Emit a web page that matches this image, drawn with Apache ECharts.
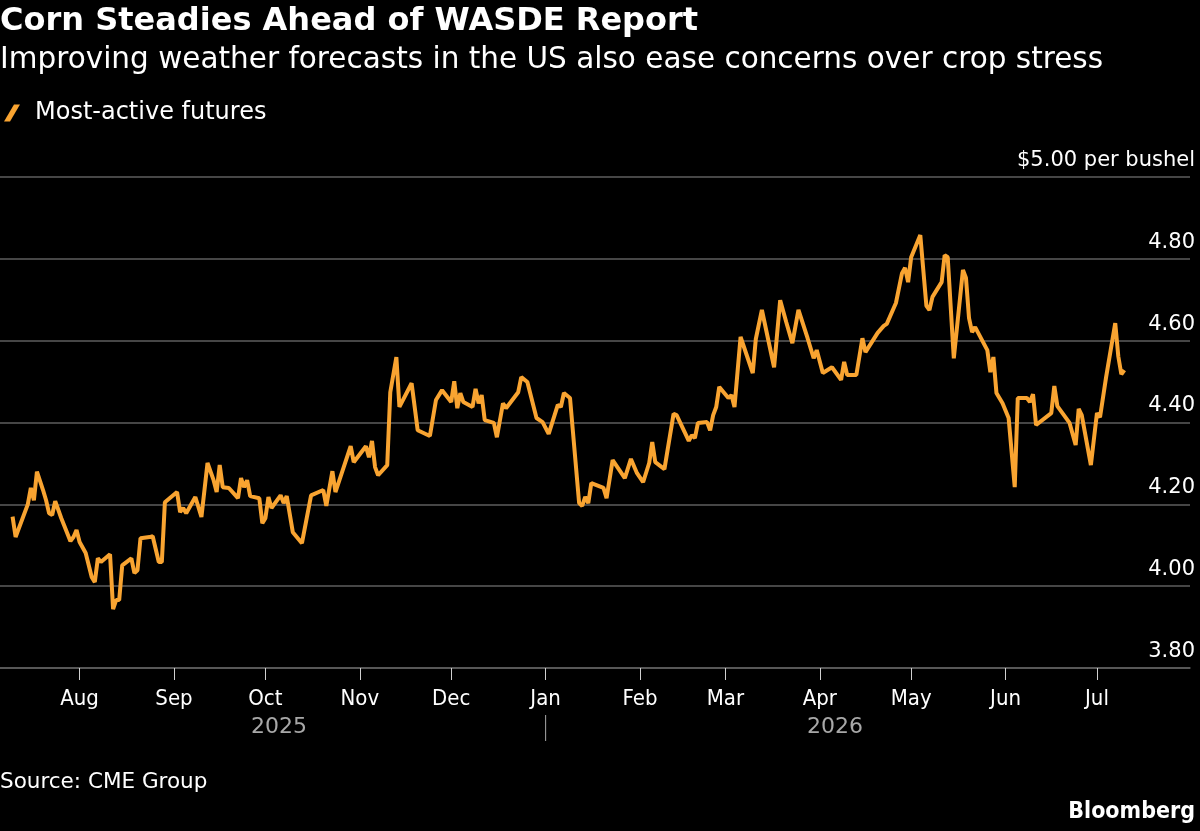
<!DOCTYPE html>
<html>
<head>
<meta charset="utf-8">
<script src="https://cdn.jsdelivr.net/npm/echarts@6/dist/echarts.min.js"></script>
<style>
  html, body { margin: 0; padding: 0; background: #000; }
  #chart { width: 1200px; height: 831px; }
</style>
</head>
<body>
<div id="chart"></div>
<script>
// most-active corn futures, $ per bushel
var dates = [
  '2025-07-10','2025-07-11','2025-07-15','2025-07-16','2025-07-17','2025-07-18','2025-07-20','2025-07-21',
  '2025-07-22','2025-07-23','2025-07-24','2025-07-26','2025-07-29','2025-07-30','2025-07-31','2025-08-01',
  '2025-08-03','2025-08-05','2025-08-06','2025-08-07','2025-08-08','2025-08-11','2025-08-12','2025-08-13',
  '2025-08-14','2025-08-15','2025-08-18','2025-08-19','2025-08-20','2025-08-21','2025-08-24','2025-08-25',
  '2025-08-27','2025-08-28','2025-08-29','2025-09-02','2025-09-03','2025-09-04','2025-09-05','2025-09-08',
  '2025-09-10','2025-09-12','2025-09-14','2025-09-15','2025-09-16','2025-09-17','2025-09-19','2025-09-22',
  '2025-09-23','2025-09-24','2025-09-25','2025-09-26','2025-09-29','2025-09-30','2025-10-01','2025-10-02',
  '2025-10-03','2025-10-06','2025-10-07','2025-10-08','2025-10-10','2025-10-13','2025-10-16','2025-10-20',
  '2025-10-21','2025-10-23','2025-10-24','2025-10-29','2025-10-30','2025-11-03','2025-11-04','2025-11-05',
  '2025-11-06','2025-11-07','2025-11-10','2025-11-11','2025-11-13','2025-11-14','2025-11-18','2025-11-20',
  '2025-11-24','2025-11-26','2025-11-28','2025-12-01','2025-12-02','2025-12-03','2025-12-04','2025-12-05',
  '2025-12-08','2025-12-09','2025-12-10','2025-12-11','2025-12-12','2025-12-15','2025-12-16','2025-12-18',
  '2025-12-19','2025-12-23','2025-12-24','2025-12-26','2025-12-29','2025-12-31','2026-01-02','2026-01-05',
  '2026-01-06','2026-01-07','2026-01-09','2026-01-12','2026-01-13','2026-01-14','2026-01-15','2026-01-16',
  '2026-01-20','2026-01-21','2026-01-23','2026-01-27','2026-01-29','2026-01-31','2026-02-02','2026-02-04',
  '2026-02-05','2026-02-06','2026-02-09','2026-02-12','2026-02-13','2026-02-17','2026-02-18','2026-02-19',
  '2026-02-20','2026-02-23','2026-02-24','2026-02-25','2026-02-26','2026-02-27','2026-03-02','2026-03-03',
  '2026-03-04','2026-03-06','2026-03-10','2026-03-11','2026-03-13','2026-03-17','2026-03-19','2026-03-21',
  '2026-03-23','2026-03-25','2026-03-28','2026-03-30','2026-03-31','2026-04-02','2026-04-05','2026-04-08',
  '2026-04-09','2026-04-10','2026-04-13','2026-04-15','2026-04-16','2026-04-20','2026-04-22','2026-04-23',
  '2026-04-26','2026-04-28','2026-04-29','2026-04-30','2026-05-01','2026-05-04','2026-05-06','2026-05-07',
  '2026-05-08','2026-05-11','2026-05-12','2026-05-13','2026-05-15','2026-05-18','2026-05-19','2026-05-20',
  '2026-05-21','2026-05-22','2026-05-26','2026-05-27','2026-05-28','2026-05-29','2026-05-31','2026-06-02',
  '2026-06-04','2026-06-05','2026-06-08','2026-06-09','2026-06-10','2026-06-11','2026-06-16','2026-06-17',
  '2026-06-18','2026-06-22','2026-06-24','2026-06-25','2026-06-26','2026-06-29','2026-07-01','2026-07-02',
  '2026-07-04','2026-07-07','2026-07-08','2026-07-09','2026-07-10'
];
var prices = [
  4.17, 4.12, 4.20, 4.24, 4.21, 4.28, 4.235, 4.21,
  4.178, 4.174, 4.208, 4.166, 4.11, 4.12, 4.137, 4.108,
  4.081, 4.022, 4.01, 4.068, 4.059, 4.078, 3.944, 3.966,
  3.966, 4.051, 4.068, 4.032, 4.039, 4.117, 4.12, 4.122,
  4.059, 4.059, 4.205, 4.23, 4.181, 4.191, 4.178, 4.218,
  4.169, 4.301, 4.259, 4.23, 4.296, 4.242, 4.24, 4.215,
  4.264, 4.242, 4.259, 4.22, 4.215, 4.154, 4.166, 4.218,
  4.191, 4.222, 4.203, 4.22, 4.132, 4.105, 4.222, 4.235,
  4.196, 4.281, 4.23, 4.342, 4.303, 4.342, 4.315, 4.355,
  4.291, 4.271, 4.296, 4.474, 4.56, 4.438, 4.496, 4.381,
  4.367, 4.455, 4.479, 4.45, 4.501, 4.435, 4.472, 4.45,
  4.438, 4.482, 4.447, 4.467, 4.406, 4.399, 4.364, 4.447,
  4.435, 4.474, 4.511, 4.499, 4.411, 4.401, 4.372, 4.443,
  4.438, 4.472, 4.46, 4.203, 4.196, 4.218, 4.203, 4.252,
  4.24, 4.215, 4.308, 4.264, 4.311, 4.276, 4.254, 4.301,
  4.352, 4.303, 4.286, 4.421, 4.418, 4.355, 4.369, 4.362,
  4.399, 4.401, 4.381, 4.418, 4.438, 4.487, 4.46, 4.467,
  4.438, 4.609, 4.521, 4.604, 4.675, 4.535, 4.699, 4.645,
  4.594, 4.675, 4.606, 4.557, 4.577, 4.521, 4.535, 4.504,
  4.548, 4.516, 4.516, 4.606, 4.572, 4.619, 4.636, 4.641,
  4.692, 4.765, 4.778, 4.743, 4.804, 4.858, 4.685, 4.675,
  4.707, 4.743, 4.809, 4.804, 4.557, 4.773, 4.753, 4.655,
  4.621, 4.633, 4.577, 4.523, 4.56, 4.472, 4.447, 4.411,
  4.242, 4.46, 4.46, 4.45, 4.469, 4.394, 4.423, 4.489,
  4.44, 4.399, 4.345, 4.433, 4.418, 4.296, 4.423, 4.413,
  4.511, 4.643, 4.562, 4.518, 4.528
];

var monthNames = ['Jan','Feb','Mar','Apr','May','Jun','Jul','Aug','Sep','Oct','Nov','Dec'];
var yearLabels = ['2025', '2026'];
var yearBreak = '2026-01-01';

var SANS = "'DejaVu Sans', sans-serif";
var COND = "'DejaVu Sans Condensed', 'DejaVu Sans', sans-serif";
var ORANGE = '#F9A431';
var GRID = '#5e5e5e';
var DAY = 86400000;

function toTime(s) {
  var p = s.split(/[- :]/);
  return new Date(+p[0], +p[1] - 1, +p[2], +(p[3] || 0), +(p[4] || 0)).getTime();
}

var seriesData = dates.map(function (d, i) { return [toTime(d), prices[i]]; });

var chart = echarts.init(document.getElementById('chart'));

chart.setOption({
  backgroundColor: '#000',
  animation: false,
  title: [
    { text: 'Corn Steadies Ahead of WASDE Report', left: 0, top: 6, padding: 0,
      textStyle: { color: '#fff', fontSize: 32, fontWeight: 'bold', fontFamily: SANS } },
    { text: 'Improving weather forecasts in the US also ease concerns over crop stress', left: 0, top: 45, padding: 0,
      textStyle: { color: '#fff', fontSize: 29.5, fontWeight: 'normal', fontFamily: SANS } },
    { text: 'Source: CME Group', left: 0, top: 771, padding: 0,
      textStyle: { color: '#fff', fontSize: 21.5, fontWeight: 'normal', fontFamily: SANS } },
    { text: 'Bloomberg', right: 5, top: 801, padding: 0,
      textStyle: { color: '#fff', fontSize: 23, fontWeight: 'bold', fontFamily: COND } }
  ],
  legend: {
    left: 4, top: 101, padding: 0,
    itemWidth: 16, itemHeight: 17,
    icon: 'path://M0,17 L6,17 L16,0 L10,0 Z',
    textStyle: { color: '#fff', fontSize: 24, fontFamily: SANS, padding: [0, 0, 0, 10] },
    data: ['Most-active futures']
  },
  grid: { left: 0, right: 10, top: 177, bottom: 163 },
  xAxis: {
    type: 'time',
    min: toTime('2025-07-05 21:00'),
    max: toTime('2026-07-31 13:00'),
    splitNumber: 12,
    minInterval: 28 * DAY,
    maxInterval: 31 * DAY,
    axisLine: { show: true, lineStyle: { color: GRID, width: 1.5 } },
    axisTick: { show: true, length: 12, lineStyle: { color: '#d0d0d0' } },
    splitLine: { show: false },
    axisLabel: {
      color: '#fff', fontSize: 22, fontFamily: COND, margin: 20,
      formatter: function (v) { return monthNames[new Date(v).getMonth()]; }
    }
  },
  yAxis: {
    type: 'value', position: 'right',
    min: 3.8, max: 5.0, interval: 0.2,
    axisLine: { show: false }, axisTick: { show: false },
    splitLine: { lineStyle: { color: GRID, width: 1.5 } },
    axisLabel: {
      inside: true, verticalAlign: 'bottom', margin: -5, padding: [0, 0, 6, 0],
      color: '#fff', fontSize: 21, fontFamily: SANS,
      formatter: function (v) { return Math.abs(v - 5) < 1e-6 ? '$5.00 per bushel' : v.toFixed(2); }
    }
  },
  series: [{
    name: 'Most-active futures',
    type: 'line',
    color: ORANGE,
    showSymbol: false,
    symbol: 'none',
    lineStyle: { width: 4, color: ORANGE },
    data: seriesData
  }]
});

// year captions under the month labels, centred on each year's span of data
var xFirst = chart.convertToPixel({ xAxisIndex: 0 }, seriesData[0][0]);
var xLast = chart.convertToPixel({ xAxisIndex: 0 }, seriesData[seriesData.length - 1][0]);
var xBreak = chart.convertToPixel({ xAxisIndex: 0 }, toTime(yearBreak));

chart.setOption({
  graphic: [
    { type: 'text', x: (xFirst + xBreak) / 2, y: 727,
      style: { text: yearLabels[0], fill: '#a8a8a8', fontSize: 22, fontFamily: SANS, align: 'center', verticalAlign: 'middle' } },
    { type: 'text', x: (xBreak + xLast) / 2, y: 727,
      style: { text: yearLabels[1], fill: '#a8a8a8', fontSize: 22, fontFamily: SANS, align: 'center', verticalAlign: 'middle' } },
    { type: 'line', shape: { x1: xBreak, y1: 715, x2: xBreak, y2: 741 },
      style: { stroke: '#a8a8a8', lineWidth: 1 } }
  ]
});
</script>
</body>
</html>
